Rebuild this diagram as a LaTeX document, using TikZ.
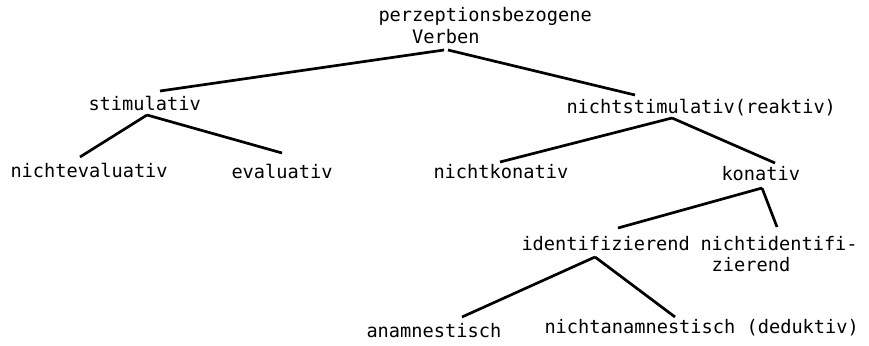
\documentclass[tikz,border=0pt]{standalone}
\usepackage{fontspec}
\setmonofont{DejaVu Sans Mono}
\begin{document}
\begin{tikzpicture}[x=1pt,y=-1pt,
  lbl/.style={inner sep=0pt,outer sep=0pt,anchor=base west,font=\ttfamily\fontsize{18.65}{21.5}\selectfont},
  edge/.style={line width=2.7pt,black}]
\useasboundingbox (0,0) rectangle (869,345);
\node[lbl] (root) at (378.5,22) {\begin{tabular}[t]{@{}l@{}}perzeptionsbezogene\\\phantom{per}Verben\end{tabular}};
\node[lbl] (stim) at (88.5,110) {stimulativ};
\node[lbl] (ne) at (10.5,177) {nichtevaluativ};
\node[lbl] (ev) at (231.5,178) {evaluativ};
\node[lbl] (ns) at (566.5,113) {nichtstimulativ(reaktiv)};
\node[lbl] (nk) at (433.5,178) {nichtkonativ};
\node[lbl] (ko) at (721.5,180) {konativ};
\node[lbl] (id) at (521.5,250) {identifizierend};
\node[lbl] (nid) at (700.5,250) {\begin{tabular}[t]{@{}l@{}}nichtidentifi-\\\phantom{n}zierend\end{tabular}};
\node[lbl] (an) at (366.5,337) {anamnestisch};
\node[lbl] (nan) at (544.5,333) {nichtanamnestisch (deduktiv)};
% edges
\draw[edge] ([shift={(65.5,28)}]root.base west) -- ([shift={(71.5,-19)}]stim.base west);
\draw[edge] ([shift={(69.5,28)}]root.base west) -- ([shift={(68.5,-18)}]ns.base west);
\draw[edge] ([shift={(58.5,5)}]stim.base west) -- ([shift={(69.5,-20)}]ne.base west);
\draw[edge] ([shift={(58.5,5)}]stim.base west) -- ([shift={(50.5,-25)}]ev.base west);
\draw[edge] ([shift={(105.5,5)}]ns.base west) -- ([shift={(66.5,-16)}]nk.base west);
\draw[edge] ([shift={(105.5,5)}]ns.base west) -- ([shift={(53.5,-17)}]ko.base west);
\draw[edge] ([shift={(40.5,8)}]ko.base west) -- ([shift={(96.5,-22)}]id.base west);
\draw[edge] ([shift={(40.5,8)}]ko.base west) -- ([shift={(76.5,-23)}]nid.base west);
\draw[edge] ([shift={(73.5,7)}]id.base west) -- ([shift={(95.5,-20)}]an.base west);
\draw[edge] ([shift={(73.5,7)}]id.base west) -- ([shift={(130.5,-16)}]nan.base west);
\end{tikzpicture}
\end{document}
